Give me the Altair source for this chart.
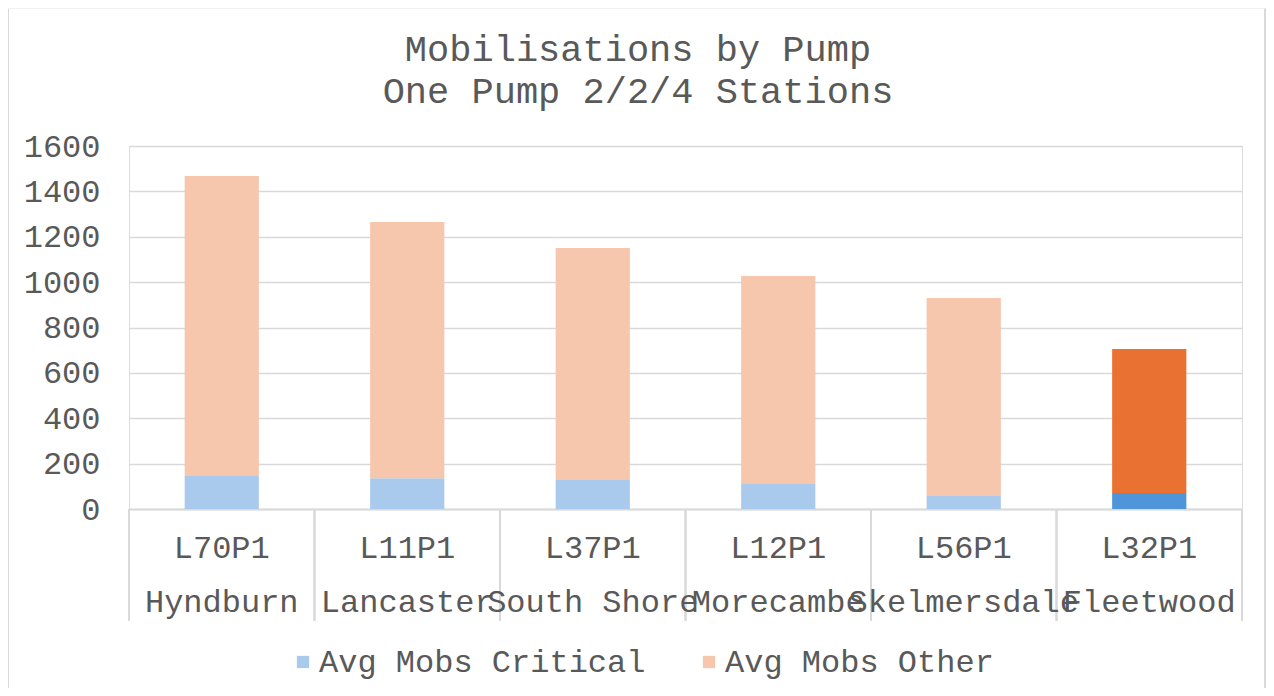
import altair as alt
import pandas as pd

codes = ["L70P1", "L11P1", "L37P1", "L12P1", "L56P1", "L32P1"]
names = ["Hyndburn", "Lancaster", "South Shore", "Morecambe", "Skelmersdale", "Fleetwood"]
critical = [145, 136, 128, 110, 57, 70]
other = [1323, 1129, 1022, 917, 873, 635]
highlight = "L32P1"

series_names = ["Avg Mobs Critical", "Avg Mobs Other"]
hl_names = ["Critical (highlight)", "Other (highlight)"]
colors = ["#A9CAEC", "#F6C6AD", "#4E95D9", "#E97132"]
y_ticks = [0, 200, 400, 600, 800, 1000, 1200, 1400, 1600]
title_line1 = "Mobilisations by Pump"
title_line2 = "One Pump 2/2/4 Stations"

FONT = "Liberation Mono"
GREY = "#595959"
LINE = "#D9D9D9"

rows = []
for c, cr, ot in zip(codes, critical, other):
    hl = c == highlight
    rows.append({"cat": c, "key": hl_names[0] if hl else series_names[0], "value": cr, "ord": 0})
    rows.append({"cat": c, "key": hl_names[1] if hl else series_names[1], "value": ot, "ord": 1})
df = pd.DataFrame(rows)
cat_df = pd.DataFrame({"cat": codes, "name": names})
t1_df = pd.DataFrame({"line": [title_line1]})
t2_df = pd.DataFrame({"line": [title_line2]})

W, H = 1113, 363

xscale = alt.Scale(paddingInner=0, paddingOuter=0)

bars = alt.Chart(df).mark_bar(width=alt.RelativeBandSize(0.4)).encode(
    x=alt.X("cat:N", sort=codes, scale=xscale, title=None,
            axis=alt.Axis(labels=False, ticks=False, domainColor=LINE, domainWidth=2, grid=False)),
    y=alt.Y("value:Q", stack="zero", scale=alt.Scale(domain=[0, 1600], nice=False), title=None,
            axis=alt.Axis(values=y_ticks, format="d", labelFont=FONT, labelFontSize=32,
                          labelColor=GREY, labelPadding=29, ticks=False, domain=False,
                          gridColor=LINE, gridWidth=1.5)),
    color=alt.Color("key:N",
                    scale=alt.Scale(domain=series_names + hl_names, range=colors),
                    legend=alt.Legend(values=series_names, title=None, orient="none",
                                      direction="horizontal", legendX=158, legendY=500,
                                      symbolType="square", symbolSize=150,
                                      symbolStrokeWidth=0, labelFont=FONT,
                                      labelFontSize=32, labelColor=GREY,
                                      labelOffset=0, columnPadding=47, labelLimit=600)),
    order=alt.Order("ord:Q"),
)

code_text = alt.Chart(cat_df).mark_text(font=FONT, fontSize=32, color=GREY, baseline="middle",
                                        align="center").encode(
    x=alt.X("cat:N", sort=codes), y=alt.value(H + 39), text="cat:N")
name_text = alt.Chart(cat_df).mark_text(font=FONT, fontSize=32, color=GREY, baseline="middle",
                                        align="center").encode(
    x=alt.X("cat:N", sort=codes), y=alt.value(H + 93), text="name:N")

sep0 = alt.Chart(cat_df).mark_rule(color=LINE, strokeWidth=2).encode(
    x=alt.X("cat:N", sort=codes, bandPosition=0),
    y=alt.value(H), y2=alt.value(H + 112),
)
sep1 = alt.Chart(cat_df).mark_rule(color=LINE, strokeWidth=2).encode(
    x=alt.X("cat:N", sort=codes, bandPosition=1),
    y=alt.value(H), y2=alt.value(H + 112),
)

title1 = alt.Chart(t1_df).mark_text(font=FONT, fontSize=37, color=GREY,
                                    baseline="middle", align="center").encode(
    x=alt.value(509), y=alt.value(-96), text="line:N")
title2 = alt.Chart(t2_df).mark_text(font=FONT, fontSize=37, color=GREY,
                                    baseline="middle", align="center").encode(
    x=alt.value(509), y=alt.value(-54), text="line:N")

border_l = alt.Chart(cat_df).mark_rule(color=LINE, strokeWidth=2).encode(
    x=alt.value(-121), y=alt.value(-138), y2=alt.value(H + 200))
border_r = alt.Chart(cat_df).mark_rule(color=LINE, strokeWidth=2).encode(
    x=alt.value(W + 23), y=alt.value(-138), y2=alt.value(H + 200))
border_t = alt.Chart(cat_df).mark_rule(color="#F0F0F0", strokeWidth=1).encode(
    x=alt.value(-121), x2=alt.value(W + 23), y=alt.value(-137.5))

chart = alt.layer(bars, sep0, sep1, code_text, name_text, title1, title2,
                  border_l, border_r, border_t).properties(
    width=W, height=H,
    autosize=alt.AutoSizeParams(type="none"),
    padding={"left": 121, "top": 138, "right": 24, "bottom": 179},
).configure_view(stroke=None).configure(background="white")

chart.save("out.html", embed_options={"renderer": "svg", "actions": False})
